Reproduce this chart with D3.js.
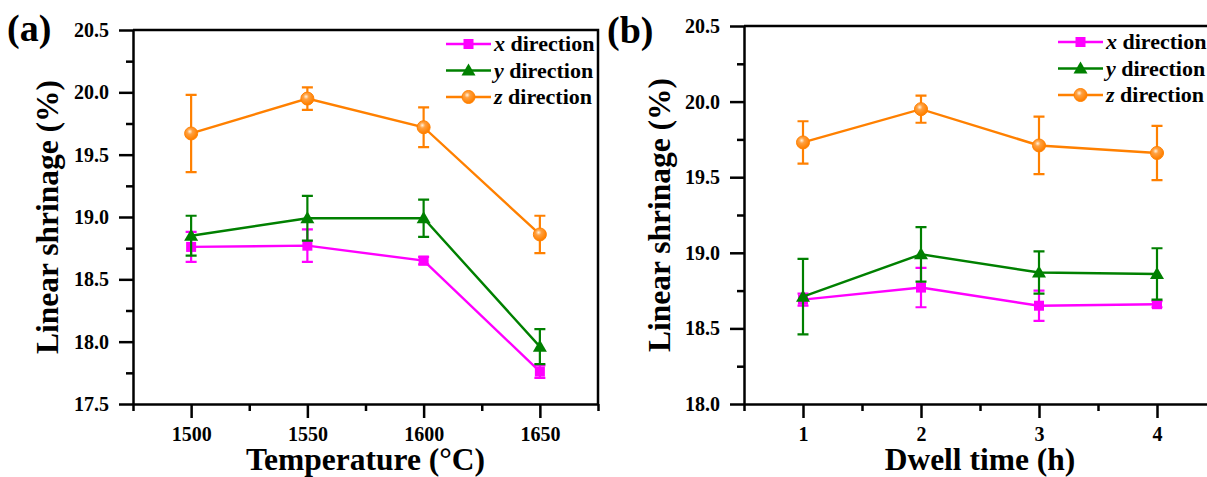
<!DOCTYPE html>
<html>
<head>
<meta charset="utf-8">
<script src="https://cdn.jsdelivr.net/npm/d3@7"></script>
<style>
  body { margin: 0; background: #fff; }
  svg text { font-family: "Liberation Serif", Tinos, "Times New Roman", Times, serif !important; font-weight: bold; }
</style>
</head>
<body>
<script>
// ----------------------------------------
//  Data
// ----------------------------------------

var temps = [1500, 1550, 1600, 1650];
var xDirA = [18.76, 18.77, 18.65, 17.76];
var xErrA = [0.12, 0.13, 0.03, 0.05];
var yDirA = [18.85, 18.99, 18.99, 17.96];
var yErrA = [0.16, 0.18, 0.15, 0.14];
var zDirA = [19.67, 19.95, 19.72, 18.86];
var zErrA = [0.31, 0.09, 0.16, 0.15];

var dwell = [1, 2, 3, 4];
var xDirB = [18.69, 18.77, 18.65, 18.66];
var xErrB = [0.04, 0.13, 0.10, 0.02];
var yDirB = [18.71, 18.99, 18.87, 18.86];
var yErrB = [0.25, 0.18, 0.14, 0.17];
var zDirB = [19.73, 19.95, 19.71, 19.66];
var zErrB = [0.14, 0.09, 0.19, 0.18];

var seriesNames = ["x", "y", "z"];
var colors = {x: "#ff00ff", y: "#008000", z: "#ff8000"};

// ----------------------------------------
//  Svg
// ----------------------------------------

var svg = d3.select("body").append("svg")
    .attr("width", 1207)
    .attr("height", 477);

var defs = svg.append("defs");
var grad = defs.append("radialGradient")
    .attr("id", "ball")
    .attr("cx", "40%").attr("cy", "35%").attr("r", "60%")
    .attr("fx", "40%").attr("fy", "35%");
grad.append("stop").attr("offset", "0%").attr("stop-color", "#fff3e0");
grad.append("stop").attr("offset", "35%").attr("stop-color", "#ffa040");
grad.append("stop").attr("offset", "100%").attr("stop-color", "#ff8000");

function marker(g, name, cx, cy) {
  if (name == "x") {
    g.append("rect").attr("x", cx - 5).attr("y", cy - 5)
      .attr("width", 10).attr("height", 10).attr("fill", colors.x);
  } else if (name == "y") {
    g.append("path")
      .attr("d", "M" + cx + "," + (cy - 7) + "L" + (cx + 7) + "," + (cy + 5) + "L" + (cx - 7) + "," + (cy + 5) + "Z")
      .attr("fill", colors.y);
  } else {
    g.append("circle").attr("cx", cx).attr("cy", cy).attr("r", 6.5)
      .attr("fill", "url(#ball)").attr("stroke", colors.z).attr("stroke-width", 1);
  }
}

// ----------------------------------------
//  One panel
// ----------------------------------------

function panel(opt) {
  var x = d3.scaleLinear().domain(opt.xDomain).range([opt.left, opt.right]);
  var y = d3.scaleLinear().domain(opt.yDomain).range([opt.bottom, opt.top]);

  var g = svg.append("g");

  // frame (top and right)
  g.append("path")
    .attr("d", "M" + opt.left + "," + opt.top + "H" + opt.right + "V" + opt.bottom)
    .attr("fill", "none").attr("stroke", "#000").attr("stroke-width", 2.5);

  // minor ticks
  g.append("g")
    .attr("transform", "translate(0," + opt.bottom + ")")
    .call(d3.axisBottom(x).tickValues(opt.xMinor).tickSize(7).tickSizeOuter(0).tickFormat(""))
    .call(function(a) { a.select(".domain").remove(); a.selectAll("line").attr("stroke-width", 2.5); });
  g.append("g")
    .attr("transform", "translate(" + opt.left + ",0)")
    .call(d3.axisLeft(y).tickValues(opt.yMinor).tickSize(7).tickSizeOuter(0).tickFormat(""))
    .call(function(a) { a.select(".domain").remove(); a.selectAll("line").attr("stroke-width", 2.5); });

  // major axes
  var xa = g.append("g")
    .attr("transform", "translate(0," + opt.bottom + ")")
    .call(d3.axisBottom(x).tickValues(opt.xTicks).tickSize(14).tickSizeOuter(0).tickPadding(9).tickFormat(d3.format("d")));
  var ya = g.append("g")
    .attr("transform", "translate(" + opt.left + ",0)")
    .call(d3.axisLeft(y).tickValues(opt.yTicks).tickSize(14).tickSizeOuter(0).tickPadding(10).tickFormat(d3.format(".1f")));
  [xa, ya].forEach(function(a) {
    a.attr("font-family", null).attr("font-size", null);
    a.select(".domain").attr("stroke-width", 2.5);
    a.selectAll("line").attr("stroke-width", 2.5);
    a.selectAll("text").attr("font-size", 20).attr("fill", "#000");
  });

  // series
  var line = d3.line().x(function(d) { return x(d[0]); }).y(function(d) { return y(d[1]); });
  seriesNames.forEach(function(name) {
    var vals = opt.values[name], errs = opt.errors[name];
    var pts = opt.xs.map(function(v, i) { return [v, vals[i], errs[i]]; });
    var sg = g.append("g");
    sg.append("path").datum(pts).attr("d", line)
      .attr("fill", "none").attr("stroke", colors[name]).attr("stroke-width", 2.4);
    pts.forEach(function(p) {
      var cx = x(p[0]), y0 = y(p[1] - p[2]), y1 = y(p[1] + p[2]);
      sg.append("path")
        .attr("d", "M" + cx + "," + y0 + "V" + y1 + "M" + (cx - 5.5) + "," + y0 + "H" + (cx + 5.5) + "M" + (cx - 5.5) + "," + y1 + "H" + (cx + 5.5))
        .attr("fill", "none").attr("stroke", colors[name]).attr("stroke-width", 2.2);
      marker(sg, name, cx, y(p[1]));
    });
  });

  // legend
  seriesNames.forEach(function(name, i) {
    var ly = opt.legY + i * 26.5;
    g.append("line").attr("x1", opt.legX).attr("x2", opt.legX + 45)
      .attr("y1", ly).attr("y2", ly).attr("stroke", colors[name]).attr("stroke-width", 2.4);
    marker(g, name, opt.legX + 22.5, ly);
    var t = g.append("text").attr("x", opt.legX + 48).attr("y", ly + 7).attr("font-size", 22);
    t.append("tspan").attr("font-style", "italic").text(name);
    t.append("tspan").text(" direction");
  });

  // titles
  g.append("text")
    .attr("transform", "translate(" + opt.yTitleX + "," + ((opt.top + opt.bottom) / 2) + ") rotate(-90)")
    .attr("text-anchor", "middle").attr("font-size", 31.5)
    .text("Linear shrinage (%)");
  g.append("text")
    .attr("x", (opt.left + opt.right) / 2).attr("y", 470)
    .attr("text-anchor", "middle").attr("font-size", 31.5)
    .text(opt.xTitle);
  g.append("text")
    .attr("x", opt.tagX).attr("y", opt.tagY).attr("font-size", 38)
    .text(opt.tag);
}

// ----------------------------------------
//  Panels
// ----------------------------------------

panel({
  left: 133, right: 598, top: 30, bottom: 404,
  xDomain: [1475, 1675], yDomain: [17.5, 20.5],
  xTicks: temps, xMinor: [1475, 1525, 1575, 1625, 1675],
  yTicks: [17.5, 18.0, 18.5, 19.0, 19.5, 20.0, 20.5],
  yMinor: [17.75, 18.25, 18.75, 19.25, 19.75, 20.25],
  xs: temps,
  values: {x: xDirA, y: yDirA, z: zDirA},
  errors: {x: xErrA, y: yErrA, z: zErrA},
  legX: 446, legY: 44,
  yTitleX: 58, xTitle: "Temperature (°C)",
  tag: "(a)", tagX: 7, tagY: 41
});

panel({
  left: 744, right: 1216, top: 26, bottom: 404,
  xDomain: [0.5, 4.5], yDomain: [18.0, 20.5],
  xTicks: dwell, xMinor: [0.5, 1.5, 2.5, 3.5, 4.5],
  yTicks: [18.0, 18.5, 19.0, 19.5, 20.0, 20.5],
  yMinor: [18.25, 18.75, 19.25, 19.75, 20.25],
  xs: dwell,
  values: {x: xDirB, y: yDirB, z: zDirB},
  errors: {x: xErrB, y: yErrB, z: zErrB},
  legX: 1058, legY: 42,
  yTitleX: 670, xTitle: "Dwell time (h)",
  tag: "(b)", tagX: 607, tagY: 43
});
</script>
</body>
</html>
